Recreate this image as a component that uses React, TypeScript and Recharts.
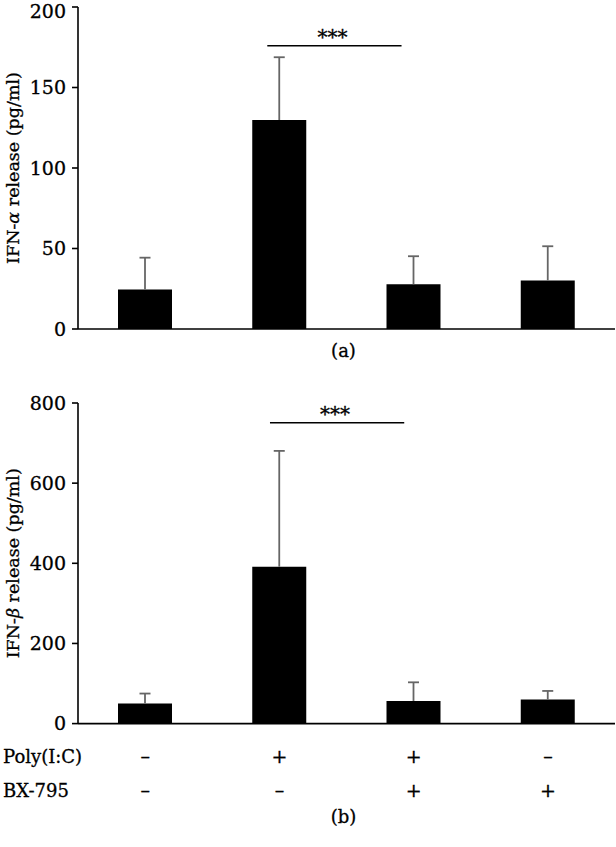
import React from 'react';
import { BarChart, Bar, XAxis, YAxis, ReferenceLine } from 'recharts';

const categories = ['G1', 'G2', 'G3', 'G4'];
const positions = [0.5, 1.5, 2.5, 3.5];
const alphaMeans = [24.6, 129.8, 27.8, 30.2];
const alphaErrors = [19.7, 39, 17.4, 21.2];
const betaMeans = [50, 391.5, 56.5, 60];
const betaErrors = [25, 289, 46.5, 21.5];
const alphaTicks = [0, 50, 100, 150, 200];
const betaTicks = [0, 200, 400, 600, 800];
const polyIC = ['–', '+', '+', '–'];
const bx795 = ['–', '–', '+', '+'];
const alphaSig = [1.41, 2.41, 176];
const betaSig = [1.43, 2.43, 751];

const alphaData = categories.map((c, i) => ({ name: c, pos: positions[i], mean: alphaMeans[i], err: alphaErrors[i] }));
const betaData = categories.map((c, i) => ({ name: c, pos: positions[i], mean: betaMeans[i], err: betaErrors[i] }));

const FONT = '"DejaVu Serif", serif';
const TXT = { fill: '#000', stroke: '#000', strokeWidth: 0.3 };

const ErrorShape = (props: any) => {
  const { x, y, width, height } = props;
  const cx = x + width / 2;
  return (
    <g>
      <line x1={cx} y1={y + height} x2={cx} y2={y} stroke="#666" strokeWidth={1.8} />
      <line x1={cx - 5.5} x2={cx + 5.5} y1={y} y2={y} stroke="#666" strokeWidth={1.8} />
    </g>
  );
};

const makeYLabel = (greek: string) => (props: any) => {
  const vb = props.viewBox;
  const x = vb.x + 13;
  const y = vb.y + vb.height / 2;
  return (
    <text
      x={x}
      y={y}
      transform={`rotate(-90, ${x}, ${y})`}
      textAnchor="middle"
      dominantBaseline="central"
      fontFamily={FONT}
      fontSize={17.5}
      {...TXT}
    >
      IFN-<tspan fontStyle="italic">{greek}</tspan> release (pg/ml)
    </text>
  );
};

const StarsLabel = (props: any) => {
  const vb = props.viewBox;
  return (
    <text x={vb.x + vb.width / 2 - 2} y={vb.y - 1.5} textAnchor="middle" fontFamily={FONT} fontSize={20} {...TXT}>
      ***
    </text>
  );
};

const ALabel = (props: any) => {
  const vb = props.viewBox;
  return (
    <text x={vb.x + vb.width / 2 - 3} y={vb.y + 28} textAnchor="middle" fontFamily={FONT} fontSize={18} {...TXT}>
      (a)
    </text>
  );
};

const BLabel = (props: any) => {
  const vb = props.viewBox;
  return (
    <g fontFamily={FONT} {...TXT}>
      <text x={3} y={vb.y + 39.7} fontSize={18}>Poly(I:C)</text>
      <text x={3} y={vb.y + 73.7} fontSize={18}>BX-795</text>
      <text x={vb.x + vb.width / 2 - 3} y={vb.y + 99.7} textAnchor="middle" fontSize={18}>(b)</text>
    </g>
  );
};

const ConditionTick = (props: any) => {
  const { x, y, index } = props;
  return (
    <g fontFamily={FONT} {...TXT} fontSize={19}>
      <text x={x} y={y + 39.7} textAnchor="middle">{polyIC[index]}</text>
      <text x={x} y={y + 73.7} textAnchor="middle">{bx795[index]}</text>
    </g>
  );
};

const tickStyle = { fill: '#000', stroke: '#000', strokeWidth: 0.3, fontFamily: FONT, fontSize: 19 };

export default function App() {
  return (
    <div style={{ position: 'absolute', left: 0, top: 0, width: 616, height: 847, background: '#fff' }}>
      <BarChart width={616} height={380} data={alphaData} margin={{ top: 7, right: 1, left: 0, bottom: 0 }}>
        <XAxis
          xAxisId="cat"
          dataKey="name"
          tick={false}
          tickLine={false}
          height={51}
          axisLine={{ stroke: '#000', strokeWidth: 1.6 }}
          label={ALabel}
        />
        <XAxis xAxisId="num" dataKey="pos" type="number" domain={[0, 4]} hide allowDataOverflow />
        <YAxis
          width={78}
          domain={[0, 200]}
          ticks={alphaTicks}
          tick={tickStyle}
          tickSize={6}
          tickMargin={6}
          axisLine={{ stroke: '#000', strokeWidth: 1.6 }}
          tickLine={{ stroke: '#000', strokeWidth: 1.6 }}
          label={makeYLabel('α')}
        />
        <Bar xAxisId="cat" dataKey="mean" stackId="s" fill="#000" barSize={54} isAnimationActive={false} />
        <Bar xAxisId="cat" dataKey="err" stackId="s" barSize={54} shape={ErrorShape} isAnimationActive={false} />
        <ReferenceLine
          xAxisId="num"
          segment={[{ x: alphaSig[0], y: alphaSig[2] }, { x: alphaSig[1], y: alphaSig[2] }]}
          stroke="#000"
          strokeWidth={1.5}
          ifOverflow="visible"
          label={StarsLabel}
        />
      </BarChart>
      <BarChart width={616} height={467} data={betaData} margin={{ top: 23, right: 1, left: 0, bottom: 0 }}>
        <XAxis
          xAxisId="cat"
          dataKey="name"
          tick={ConditionTick}
          tickLine={false}
          tickSize={0}
          tickMargin={0}
          height={123.4}
          axisLine={{ stroke: '#000', strokeWidth: 1.6 }}
          label={BLabel}
          interval={0}
        />
        <XAxis xAxisId="num" dataKey="pos" type="number" domain={[0, 4]} hide allowDataOverflow />
        <YAxis
          width={78}
          domain={[0, 800]}
          ticks={betaTicks}
          tick={tickStyle}
          tickSize={6}
          tickMargin={6}
          axisLine={{ stroke: '#000', strokeWidth: 1.6 }}
          tickLine={{ stroke: '#000', strokeWidth: 1.6 }}
          label={makeYLabel('β')}
        />
        <Bar xAxisId="cat" dataKey="mean" stackId="s" fill="#000" barSize={54} isAnimationActive={false} />
        <Bar xAxisId="cat" dataKey="err" stackId="s" barSize={54} shape={ErrorShape} isAnimationActive={false} />
        <ReferenceLine
          xAxisId="num"
          segment={[{ x: betaSig[0], y: betaSig[2] }, { x: betaSig[1], y: betaSig[2] }]}
          stroke="#000"
          strokeWidth={1.5}
          ifOverflow="visible"
          label={StarsLabel}
        />
      </BarChart>
    </div>
  );
}
